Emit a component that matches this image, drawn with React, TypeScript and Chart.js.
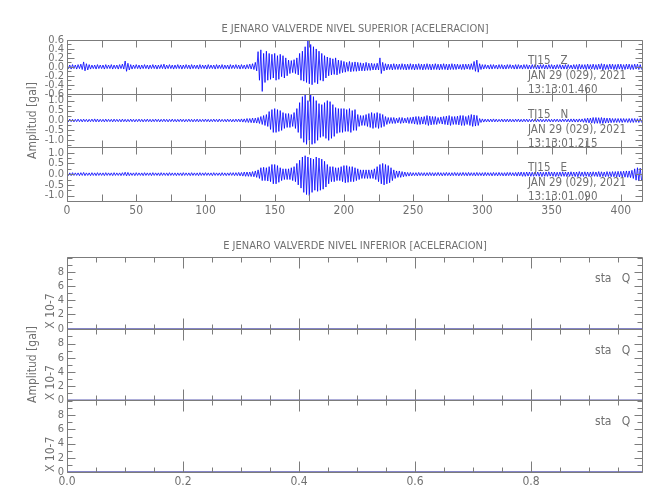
import React, { useEffect, useRef } from 'react';
import { Chart, registerables } from 'chart.js';

Chart.register(...registerables);

// ---------- text ----------
const TITLE_SUP = 'E JENARO VALVERDE NIVEL SUPERIOR [ACELERACION]';
const TITLE_INF = 'E JENARO VALVERDE NIVEL INFERIOR [ACELERACION]';
const Y_TITLE = 'Amplitud [gal]';
const SCALE_NOTE = 'X 10-7';
const SUP_NOTES = [
  ['TJ15   Z', 'JAN 29 (029), 2021', '13:13:01.460'],
  ['TJ15   N', 'JAN 29 (029), 2021', '13:13:01.215'],
  ['TJ15   E', 'JAN 29 (029), 2021', '13:13:01.090'],
];
const INF_NOTE = 'sta   Q';

// ---------- axes ----------
const SUP_X_MAX = 416;
const SUP_X_TICKS = [0, 50, 100, 150, 200, 250, 300, 350, 400];
const INF_X_MAX = 0.993;
const INF_X_TICKS = [0, 0.2, 0.4, 0.6, 0.8];
const Z_RANGE = [-0.6, 0.6];
const Z_TICKS = [-0.6, -0.4, -0.2, 0, 0.2, 0.4, 0.6];
const N_RANGE = [-1.35, 1.35];
const N_TICKS = [-1, -0.5, 0, 0.5, 1];
const E_RANGE = [-1.25, 1.25];
const E_TICKS = [-1, -0.5, 0, 0.5, 1];
const INF_RANGE = [0, 10.1];
const INF_TICKS = [0, 2, 4, 6, 8];

// ---------- data: per 2-s bin max / min of each trace (gal) ----------
const BIN_SECONDS = 2;
const Z_HI = [
  .05, .04, .05, .04, .05, .06, .11, .07, .05, .04,
  .04, .05, .04, .04, .05, .04, .05, .04, .04, .05,
  .06, .13, .08, .05, .04, .05, .04, .04, .05, .04,
  .04, .05, .04, .04, .05, .06, .04, .05, .04, .04,
  .05, .04, .04, .05, .04, .05, .04, .04, .05, .04,
  .04, .05, .04, .04, .05, .04, .05, .04, .04, .05,
  .04, .05, .04, .05, .04, .05, .06, .07, .10, .34,
  .38, .30, .35, .30, .28, .30, .25, .28, .25, .20,
  .15, .14, .16, .20, .30, .35, .45, .58, .50, .45,
  .40, .35, .30, .25, .22, .20, .18, .20, .15, .14,
  .12, .10, .12, .10, .11, .10, .09, .08, .10, .08,
  .08, .07, .08, .20, .10, .07, .06, .06, .07, .06,
  .06, .07, .06, .06, .07, .06, .06, .07, .06, .06,
  .07, .06, .06, .07, .06, .06, .07, .06, .06, .07,
  .06, .06, .05, .06, .06, .06, .07, .12, .15, .07,
  .05, .05, .04, .05, .05, .04, .05, .05, .04, .05,
  .05, .04, .05, .05, .04, .05, .05, .04, .05, .05,
  .04, .05, .05, .04, .05, .05, .04, .05, .05, .04,
  .05, .05, .04, .05, .05, .06, .05, .05, .06, .05,
  .06, .05, .06, .07, .06, .05, .06, .06, .05, .06,
  .06, .05, .06, .06, .05, .06, .06, .05,
];
const Z_LO = [
  -.04, -.05, -.04, -.05, -.04, -.06, -.09, -.07, -.05, -.04,
  -.05, -.04, -.04, -.05, -.04, -.04, -.05, -.04, -.05, -.04,
  -.05, -.10, -.07, -.05, -.04, -.04, -.05, -.04, -.04, -.05,
  -.04, -.04, -.05, -.04, -.04, -.05, -.04, -.04, -.05, -.04,
  -.04, -.05, -.04, -.04, -.05, -.04, -.04, -.05, -.04, -.04,
  -.05, -.04, -.04, -.05, -.04, -.04, -.05, -.04, -.05, -.04,
  -.04, -.04, -.05, -.04, -.05, -.04, -.05, -.06, -.09, -.30,
  -.55, -.35, -.30, -.28, -.25, -.30, -.28, -.22, -.25, -.20,
  -.15, -.13, -.15, -.18, -.30, -.32, -.35, -.38, -.40, -.35,
  -.38, -.30, -.32, -.25, -.20, -.18, -.17, -.18, -.15, -.13,
  -.12, -.10, -.11, -.10, -.10, -.09, -.09, -.09, -.08, -.08,
  -.07, -.07, -.07, -.15, -.09, -.07, -.06, -.07, -.06, -.06,
  -.06, -.06, -.07, -.06, -.06, -.07, -.06, -.06, -.07, -.06,
  -.06, -.07, -.06, -.06, -.07, -.06, -.06, -.07, -.06, -.06,
  -.06, -.05, -.06, -.06, -.05, -.06, -.06, -.10, -.12, -.06,
  -.05, -.04, -.05, -.05, -.04, -.05, -.04, -.05, -.05, -.04,
  -.04, -.05, -.05, -.04, -.05, -.04, -.05, -.05, -.04, -.05,
  -.05, -.04, -.05, -.05, -.04, -.05, -.05, -.04, -.05, -.05,
  -.05, -.04, -.05, -.05, -.06, -.05, -.05, -.06, -.05, -.05,
  -.06, -.06, -.05, -.07, -.06, -.06, -.05, -.06, -.06, -.05,
  -.06, -.06, -.05, -.06, -.06, -.05, -.06, -.06,
];
const N_HI = [
  .06, .07, .06, .06, .07, .06, .07, .06, .06, .07,
  .08, .07, .06, .06, .07, .06, .06, .07, .06, .06,
  .07, .06, .06, .07, .06, .06, .07, .06, .06, .07,
  .06, .06, .07, .06, .06, .07, .06, .06, .07, .06,
  .06, .07, .06, .06, .07, .06, .06, .07, .06, .06,
  .07, .06, .06, .07, .06, .07, .06, .06, .07, .06,
  .06, .07, .07, .08, .08, .10, .10, .12, .12, .15,
  .20, .25, .30, .45, .55, .60, .55, .50, .40, .35,
  .35, .30, .40, .60, .90, 1.20, 1.30, 1.00, 1.30, 1.20,
  1.00, .85, .80, .90, 1.00, .95, .80, .65, .60, .60,
  .60, .55, .60, .50, .55, .30, .25, .25, .30, .35,
  .40, .35, .40, .35, .30, .20, .15, .15, .15, .12,
  .15, .15, .12, .15, .15, .18, .20, .20, .18, .20,
  .25, .22, .20, .20, .15, .18, .20, .22, .25, .20,
  .20, .22, .25, .25, .20, .25, .30, .28, .25, .10,
  .08, .07, .07, .07, .08, .07, .06, .07, .07, .07,
  .07, .06, .07, .07, .06, .07, .07, .06, .07, .07,
  .07, .07, .06, .07, .07, .06, .07, .07, .06, .07,
  .07, .07, .08, .08, .07, .08, .08, .10, .12, .12,
  .15, .15, .14, .15, .13, .12, .12, .10, .10, .10,
  .10, .10, .09, .10, .10, .10, .09, .10,
];
const N_LO = [
  -.06, -.06, -.07, -.06, -.06, -.07, -.06, -.07, -.06, -.06,
  -.07, -.07, -.06, -.07, -.06, -.06, -.07, -.06, -.06, -.07,
  -.06, -.07, -.06, -.06, -.07, -.06, -.06, -.07, -.06, -.06,
  -.07, -.06, -.06, -.07, -.06, -.06, -.07, -.06, -.06, -.07,
  -.06, -.06, -.07, -.06, -.06, -.07, -.06, -.07, -.06, -.06,
  -.06, -.07, -.06, -.06, -.07, -.06, -.06, -.07, -.06, -.07,
  -.07, -.06, -.07, -.08, -.09, -.10, -.11, -.12, -.13, -.15,
  -.20, -.25, -.30, -.45, -.60, -.60, -.55, -.50, -.40, -.35,
  -.35, -.30, -.40, -.60, -.90, -1.10, -1.20, -1.00, -1.20, -1.15,
  -1.00, -.85, -.80, -.90, -1.00, -.90, -.80, -.65, -.60, -.60,
  -.55, -.55, -.60, -.50, -.50, -.30, -.25, -.25, -.30, -.35,
  -.40, -.35, -.40, -.35, -.30, -.20, -.15, -.15, -.15, -.12,
  -.15, -.13, -.12, -.15, -.15, -.18, -.20, -.20, -.18, -.20,
  -.25, -.22, -.20, -.20, -.15, -.18, -.20, -.22, -.25, -.20,
  -.20, -.22, -.25, -.25, -.20, -.25, -.30, -.28, -.25, -.10,
  -.08, -.07, -.07, -.07, -.07, -.07, -.06, -.07, -.07, -.07,
  -.07, -.07, -.06, -.07, -.07, -.06, -.07, -.07, -.06, -.07,
  -.06, -.07, -.07, -.06, -.07, -.07, -.06, -.07, -.07, -.06,
  -.07, -.08, -.07, -.08, -.08, -.07, -.09, -.10, -.12, -.13,
  -.15, -.14, -.15, -.15, -.13, -.12, -.11, -.10, -.10, -.10,
  -.10, -.09, -.10, -.10, -.10, -.09, -.10, -.10,
];
const E_HI = [
  .06, .06, .07, .06, .06, .07, .08, .06, .06, .07,
  .06, .07, .06, .06, .07, .06, .06, .07, .06, .06,
  .07, .09, .08, .06, .06, .07, .06, .06, .07, .06,
  .06, .07, .06, .06, .07, .06, .06, .07, .06, .06,
  .06, .06, .07, .06, .06, .07, .06, .06, .07, .06,
  .07, .06, .06, .07, .06, .06, .07, .06, .06, .07,
  .07, .07, .08, .08, .10, .10, .10, .12, .15, .20,
  .30, .32, .30, .35, .45, .45, .40, .30, .25, .25,
  .25, .30, .35, .50, .65, .80, .86, .80, .75, .70,
  .80, .75, .70, .60, .45, .35, .35, .30, .30, .35,
  .40, .40, .35, .35, .30, .25, .20, .20, .20, .20,
  .20, .25, .35, .45, .50, .45, .40, .30, .20, .15,
  .15, .12, .10, .08, .08, .07, .07, .08, .07, .07,
  .07, .08, .07, .07, .08, .07, .07, .08, .07, .07,
  .08, .07, .07, .08, .07, .08, .07, .07, .08, .07,
  .07, .08, .07, .07, .08, .07, .08, .07, .07, .08,
  .08, .07, .08, .09, .10, .09, .10, .10, .09, .10,
  .10, .10, .09, .10, .11, .10, .10, .09, .10, .11,
  .10, .10, .11, .10, .10, .12, .10, .11, .10, .10,
  .11, .10, .12, .11, .10, .12, .11, .12, .12, .13,
  .13, .14, .15, .15, .18, .25, .30, .28,
];
const E_LO = [
  -.06, -.07, -.06, -.06, -.07, -.06, -.07, -.06, -.07, -.06,
  -.07, -.06, -.06, -.07, -.06, -.06, -.07, -.06, -.06, -.07,
  -.06, -.08, -.07, -.06, -.07, -.06, -.06, -.07, -.06, -.06,
  -.07, -.06, -.06, -.07, -.06, -.06, -.07, -.06, -.06, -.07,
  -.06, -.07, -.06, -.06, -.07, -.06, -.06, -.07, -.06, -.06,
  -.06, -.06, -.07, -.06, -.06, -.07, -.06, -.07, -.06, -.06,
  -.07, -.07, -.08, -.09, -.10, -.10, -.11, -.12, -.15, -.20,
  -.30, -.30, -.32, -.35, -.45, -.45, -.38, -.30, -.25, -.25,
  -.25, -.30, -.35, -.50, -.65, -.85, -.95, -1.00, -.85, -.75,
  -.80, -.75, -.70, -.60, -.45, -.35, -.35, -.30, -.30, -.35,
  -.40, -.38, -.35, -.35, -.30, -.25, -.20, -.20, -.20, -.20,
  -.20, -.25, -.35, -.45, -.50, -.45, -.40, -.30, -.20, -.15,
  -.15, -.12, -.10, -.09, -.08, -.07, -.08, -.07, -.07, -.08,
  -.07, -.07, -.08, -.07, -.07, -.08, -.07, -.07, -.08, -.07,
  -.07, -.08, -.07, -.07, -.08, -.07, -.07, -.08, -.07, -.07,
  -.08, -.07, -.07, -.08, -.07, -.08, -.07, -.08, -.08, -.07,
  -.07, -.08, -.09, -.08, -.10, -.10, -.09, -.10, -.10, -.09,
  -.10, -.11, -.10, -.10, -.09, -.10, -.11, -.10, -.10, -.10,
  -.11, -.10, -.10, -.11, -.12, -.10, -.11, -.10, -.11, -.10,
  -.10, -.11, -.12, -.11, -.12, -.11, -.12, -.12, -.13, -.13,
  -.13, -.14, -.15, -.16, -.20, -.28, -.32, -.30,
];
// lower station (all zero)
const INF_T = [0, 0.25, 0.5, 0.75, 0.993];
const INF_Q1 = [0, 0, 0, 0, 0];
const INF_Q2 = [0, 0, 0, 0, 0];
const INF_Q3 = [0, 0, 0, 0, 0];

// ---------- style ----------
const FONT = "'DejaVu Sans Condensed', 'Liberation Sans Narrow', 'Liberation Sans', sans-serif";
const TEXT = '#707070';
const AXIS = '#7c7c7c';
const TRACE = '#0000ff';
const FLAT = '#5c5cb4';
const Y_AXIS_WIDTH = 67;

function zigzag(hi: number[], lo: number[]) {
  const pts: { x: number; y: number }[] = [];
  for (let i = 0; i < hi.length; i++) {
    pts.push({ x: i * BIN_SECONDS, y: hi[i] });
    pts.push({ x: i * BIN_SECONDS + BIN_SECONDS / 2, y: lo[i] });
  }
  return pts;
}
function series(t: number[], v: number[]) {
  return t.map((x, i) => ({ x, y: v[i] }));
}

const tickFont = { family: FONT, size: 11, weight: 'normal' as const, lineHeight: 1.2 };
const noteFont = { family: FONT, size: 12, weight: 'normal' as const, lineHeight: 1.2 };

function yScale(stack: string, range: number[], ticks: number[], decimals: number, note?: string) {
  return {
    type: 'linear',
    position: 'left',
    stack,
    stackWeight: 1,
    min: range[0],
    max: range[1],
    afterBuildTicks: (s: any) => { s.ticks = ticks.map((v) => ({ value: v })); },
    afterFit: (s: any) => { s.width = Y_AXIS_WIDTH; },
    grid: { display: false, drawTicks: false },
    border: { display: false },
    ticks: {
      autoSkip: false,
      padding: 3,
      color: TEXT,
      font: tickFont,
      callback: (v: any) => Number(v).toFixed(decimals),
    },
    title: note
      ? { display: true, text: note, align: 'start', color: TEXT, font: noteFont, padding: { top: 44, bottom: 0 } }
      : { display: false },
  };
}

function xScale(max: number, ticks: number[], decimals: number, height: number) {
  return {
    type: 'linear',
    position: 'bottom',
    min: 0,
    max,
    afterBuildTicks: (s: any) => { s.ticks = ticks.map((v) => ({ value: v })); },
    afterFit: (s: any) => { s.height = height; },
    grid: { display: false, drawTicks: false },
    border: { display: false },
    ticks: {
      autoSkip: false,
      maxRotation: 0,
      padding: 3,
      color: TEXT,
      font: { family: FONT, size: 12, weight: 'normal' as const, lineHeight: 1.2 },
      callback: (v: any) => Number(v).toFixed(decimals),
    },
  };
}

type FrameOpts = {
  ids: string[];
  xStep: number;
  xMajorLen: number;
  xMinorLen: number;
  yStep: Record<string, number>;
  yMajorLen: number;
  yMinorLen: number;
};

function framePlugin(o: FrameOpts) {
  return {
    id: 'frames',
    afterDatasetsDraw(chart: any) {
      const { ctx, chartArea: ca, scales } = chart;
      const xs = scales.x;
      const px = (v: number) => Math.round(v) + 0.5;
      const L = px(ca.left);
      const R = px(ca.right) - 1;
      ctx.save();
      ctx.strokeStyle = AXIS;
      ctx.lineWidth = 1;
      const majorX = new Set(xs.ticks.map((t: any) => Math.round(t.value * 1000)));
      for (const id of o.ids) {
        const ys = scales[id];
        const T = px(ys.top);
        const B = px(ys.bottom);
        ctx.beginPath();
        ctx.rect(L, T, R - L, B - T);
        const majorY = new Set(ys.ticks.map((t: any) => Math.round(t.value * 1000)));
        const st = o.yStep[id];
        for (let k = Math.ceil(ys.min / st - 1e-6); k * st <= ys.max + 1e-6; k++) {
          const v = k * st;
          const y = px(ys.getPixelForValue(v));
          const len = majorY.has(Math.round(v * 1000)) ? o.yMajorLen : o.yMinorLen;
          ctx.moveTo(L, y); ctx.lineTo(L + len, y);
          ctx.moveTo(R, y); ctx.lineTo(R - len, y);
        }
        for (let k = Math.ceil(xs.min / o.xStep - 1e-6); k * o.xStep <= xs.max + 1e-6; k++) {
          const v = k * o.xStep;
          const x = px(xs.getPixelForValue(v));
          const len = majorX.has(Math.round(v * 1000)) ? o.xMajorLen : o.xMinorLen;
          ctx.moveTo(x, T); ctx.lineTo(x, T + len);
          ctx.moveTo(x, B); ctx.lineTo(x, B - len);
        }
        ctx.stroke();
      }
      ctx.restore();
    },
  };
}

function notePlugin(ids: string[], notes: string[][], noteX: number, noteDy: number[], size: number) {
  return {
    id: 'notes',
    afterDraw(chart: any) {
      const { ctx, chartArea: ca, scales } = chart;
      ctx.save();
      ctx.fillStyle = TEXT;
      ctx.textBaseline = 'middle';
      ctx.font = `12px ${FONT}`;
      ctx.save();
      ctx.translate(33, (ca.top + ca.bottom) / 2);
      ctx.rotate(-Math.PI / 2);
      ctx.textAlign = 'center';
      ctx.fillText(Y_TITLE, 0, 0);
      ctx.restore();
      ctx.font = `${size}px ${FONT}`;
      ctx.textAlign = 'left';
      ids.forEach((id, i) => {
        const ys = scales[id];
        notes[i].forEach((line, j) => ctx.fillText(line, noteX, ys.top + noteDy[j]));
      });
      ctx.restore();
    },
  };
}

function titleOpts(text: string, padTop: number) {
  return {
    display: true,
    text,
    fullSize: false,
    color: TEXT,
    font: { family: FONT, size: 11, weight: 'normal' as const, lineHeight: 1 },
    padding: { top: padTop, bottom: 29 - padTop - 11 + 11 - 11 + 0 },
  };
}

function lineDs(data: any[], yAxisID: string, color: string, width: number) {
  return {
    data,
    yAxisID,
    xAxisID: 'x',
    borderColor: color,
    borderWidth: width,
    pointRadius: 0,
    tension: 0,
    fill: false,
  };
}

export default function App() {
  const supRef = useRef<HTMLCanvasElement>(null);
  const infRef = useRef<HTMLCanvasElement>(null);

  useEffect(() => {
    // stacked axes are laid out bottom-up: E (bottom), N, Z (top)
    const supIds = ['yZ', 'yN', 'yE'];
    const sup = new Chart(supRef.current as HTMLCanvasElement, {
      type: 'line',
      data: {
        datasets: [
          lineDs(zigzag(Z_HI, Z_LO), 'yZ', TRACE, 0.8),
          lineDs(zigzag(N_HI, N_LO), 'yN', TRACE, 0.8),
          lineDs(zigzag(E_HI, E_LO), 'yE', TRACE, 0.8),
        ],
      } as any,
      options: {
        responsive: false,
        animation: false,
        devicePixelRatio: 1,
        parsing: false,
        layout: { padding: { left: 0, right: 7, top: 0, bottom: 0 } },
        plugins: {
          legend: { display: false },
          tooltip: { enabled: false },
          title: { ...titleOpts(TITLE_SUP, 24), padding: { top: 24, bottom: 5 } },
        },
        scales: {
          x: xScale(SUP_X_MAX, SUP_X_TICKS, 0, 24),
          yE: yScale('sup', E_RANGE, E_TICKS, 1),
          yN: yScale('sup', N_RANGE, N_TICKS, 1),
          yZ: yScale('sup', Z_RANGE, Z_TICKS, 1),
        },
      } as any,
      plugins: [
        framePlugin({
          ids: supIds,
          xStep: 25,
          xMajorLen: 7,
          xMinorLen: 7,
          yStep: { yZ: 0.1, yN: 0.25, yE: 0.25 },
          yMajorLen: 7,
          yMinorLen: 4,
        }),
        notePlugin(supIds, SUP_NOTES, 528, [21, 36, 50], 11.5),
      ] as any,
    });

    const infIds = ['yQ1', 'yQ2', 'yQ3'];
    const inf = new Chart(infRef.current as HTMLCanvasElement, {
      type: 'line',
      data: {
        datasets: [
          lineDs(series(INF_T, INF_Q1), 'yQ1', FLAT, 1.5),
          lineDs(series(INF_T, INF_Q2), 'yQ2', FLAT, 1.5),
          lineDs(series(INF_T, INF_Q3), 'yQ3', FLAT, 1.5),
        ],
      } as any,
      options: {
        responsive: false,
        animation: false,
        devicePixelRatio: 1,
        parsing: false,
        layout: { padding: { left: 0, right: 7, top: 0, bottom: 0 } },
        plugins: {
          legend: { display: false },
          tooltip: { enabled: false },
          title: { ...titleOpts(TITLE_INF, 16), padding: { top: 16, bottom: 5 } },
        },
        scales: {
          x: xScale(INF_X_MAX, INF_X_TICKS, 1, 28),
          yQ3: yScale('inf', INF_RANGE, INF_TICKS, 0, SCALE_NOTE),
          yQ2: yScale('inf', INF_RANGE, INF_TICKS, 0, SCALE_NOTE),
          yQ1: yScale('inf', INF_RANGE, INF_TICKS, 0, SCALE_NOTE),
        },
      } as any,
      plugins: [
        framePlugin({
          ids: infIds,
          xStep: 0.05,
          xMajorLen: 11,
          xMinorLen: 5,
          yStep: { yQ1: 1, yQ2: 1, yQ3: 1 },
          yMajorLen: 8,
          yMinorLen: 5,
        }),
        notePlugin(infIds, [[INF_NOTE], [INF_NOTE], [INF_NOTE]], 595, [22], 12),
      ] as any,
    });

    return () => {
      sup.destroy();
      inf.destroy();
    };
  }, []);

  return (
    <div style={{ position: 'fixed', left: 0, top: 0, width: 650, height: 500, background: '#ffffff' }}>
      <canvas
        ref={supRef}
        width={650}
        height={225}
        style={{ position: 'absolute', left: 0, top: 0, width: 650, height: 225, display: 'block' }}
      />
      <canvas
        ref={infRef}
        width={650}
        height={275}
        style={{ position: 'absolute', left: 0, top: 225, width: 650, height: 275, display: 'block' }}
      />
    </div>
  );
}
